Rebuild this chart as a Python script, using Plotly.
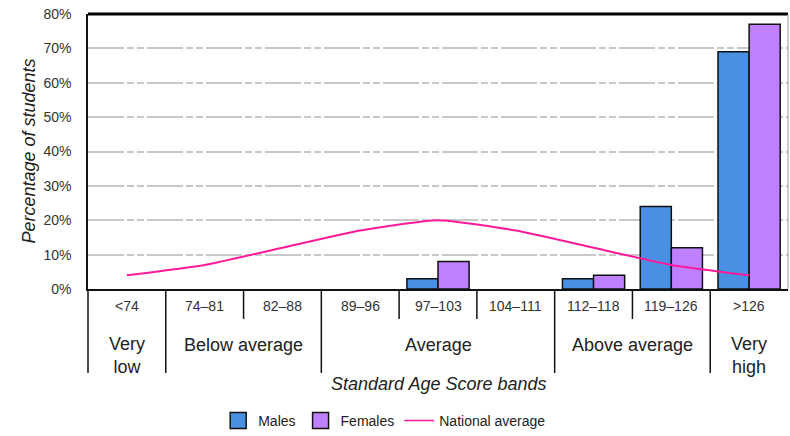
import plotly.graph_objects as go

bands = ["<74", "74\u201381", "82\u201388", "89\u201396", "97\u2013103", "104\u2013111", "112\u2013118", "119\u2013126", ">126"]
males = [0, 0, 0, 0, 3, 0, 3, 24, 69]
females = [0, 0, 0, 0, 8, 0, 4, 12, 77]
national = [4, 7, 12, 17, 20, 17, 12, 7, 4]

groups = ["Very<br>low", "Below average", "Average", "Above average", "Very<br>high"]
group_centers = [0, 1.5, 4, 6.5, 8]
long_dividers = [0.5, 2.5, 5.5, 7.5]
short_dividers = [1.5, 3.5, 4.5, 6.5]

FONT = "Liberation Sans, Arial, sans-serif"
PH = 275  # plot height px
MALE_C = "#4a90e2"
FEMALE_C = "#bf80ff"


def py(pix):
    return -(pix - 289) / PH


def nz(vals):
    return [v if v else None for v in vals]


fig = go.Figure()
fig.add_trace(go.Bar(x=bands, y=nz(males), name="Males", showlegend=False,
                     marker=dict(color=MALE_C, line=dict(color="#111", width=1.5))))
fig.add_trace(go.Bar(x=bands, y=nz(females), name="Females", showlegend=False,
                     marker=dict(color=FEMALE_C, line=dict(color="#111", width=1.5))))
fig.add_trace(go.Scatter(x=bands, y=national, name="National average", mode="lines",
                         showlegend=False,
                         line=dict(color="#ff1a9c", width=2, shape="spline", smoothing=0.5)))
# legend entries
fig.add_trace(go.Scatter(x=[None], y=[None], mode="markers", name="Males",
                         marker=dict(symbol="square", size=17, color=MALE_C,
                                     line=dict(color="#111", width=1.5))))
fig.add_trace(go.Scatter(x=[None], y=[None], mode="markers", name="Females",
                         marker=dict(symbol="square", size=17, color=FEMALE_C,
                                     line=dict(color="#111", width=1.5))))
fig.add_trace(go.Scatter(x=[None], y=[None], mode="lines", name="National average",
                         line=dict(color="#ff1a9c", width=1.5)))

shapes = []
for b in long_dividers:
    shapes.append(dict(type="line", xref="x", yref="paper", x0=b, x1=b, y0=0, y1=py(373),
                       line=dict(color="#111", width=1.5)))
for b in short_dividers:
    shapes.append(dict(type="line", xref="x", yref="paper", x0=b, x1=b, y0=0, y1=py(319),
                       line=dict(color="#111", width=1.5)))
shapes.append(dict(type="line", xref="paper", yref="paper", x0=0, x1=0, y0=0, y1=py(373),
                   line=dict(color="#111", width=1.5)))
shapes.append(dict(type="line", xref="paper", yref="paper", x0=0, x1=1, y0=1, y1=1,
                   line=dict(color="#000", width=3)))
shapes.append(dict(type="line", xref="paper", yref="paper", x0=1, x1=1, y0=0, y1=1,
                   line=dict(color="#999", width=1)))

annotations = []
for i, b in enumerate(bands):
    annotations.append(dict(x=i, y=py(306), xref="x", yref="paper", text=b,
                            xanchor="center", yanchor="middle",
                            showarrow=False, font=dict(family=FONT, size=14, color="#333")))
for g, c in zip(groups, group_centers):
    yy = 355 if "<br>" in g else 345
    annotations.append(dict(x=c, y=py(yy), xref="x", yref="paper", text=g,
                            xanchor="center", yanchor="middle",
                            showarrow=False, font=dict(family=FONT, size=18, color="#222")))
annotations.append(dict(x=0.5, y=py(384), xref="paper", yref="paper",
                        xanchor="center", yanchor="middle",
                        text="<i>Standard Age Score bands</i>", showarrow=False,
                        font=dict(family=FONT, size=18, color="#222")))
annotations.append(dict(x=-(88 - 28) / 700, y=0.5, xref="paper", yref="paper",
                        xanchor="center", yanchor="middle",
                        text="<i>Percentage of students</i>", showarrow=False, textangle=-90,
                        font=dict(family=FONT, size=18, color="#222")))

fig.update_layout(
    width=790, height=436,
    margin=dict(l=88, r=2, t=14, b=147, autoexpand=False),
    plot_bgcolor="white", paper_bgcolor="white",
    barmode="group", bargap=0.2, bargroupgap=0,
    font=dict(family=FONT, color="#222"),
    shapes=shapes, annotations=annotations,
    showlegend=True,
    legend=dict(orientation="h", x=0.186, y=py(405), xanchor="left", yanchor="top",
                font=dict(family=FONT, size=14, color="#222"), traceorder="normal"),
    xaxis=dict(showticklabels=False, ticks="", showgrid=False, showline=True, automargin=False,
               linecolor="#111", linewidth=1.5, range=[-0.5, 8.5]),
    yaxis=dict(range=[0, 80], dtick=10, ticksuffix="%", showgrid=True, automargin=False,
               gridcolor="#c8c8c8", gridwidth=1.5, griddash="36px,3px,7px,3px,7px,3px",
               showline=True, linecolor="#111", linewidth=1.5, ticks="",
               ticklabelstandoff=12, zeroline=False,
               tickfont=dict(family=FONT, size=14, color="#333")),
)

fig.write_html("out.html", config={"displayModeBar": False},
               post_script="document.body.style.margin='0';")
